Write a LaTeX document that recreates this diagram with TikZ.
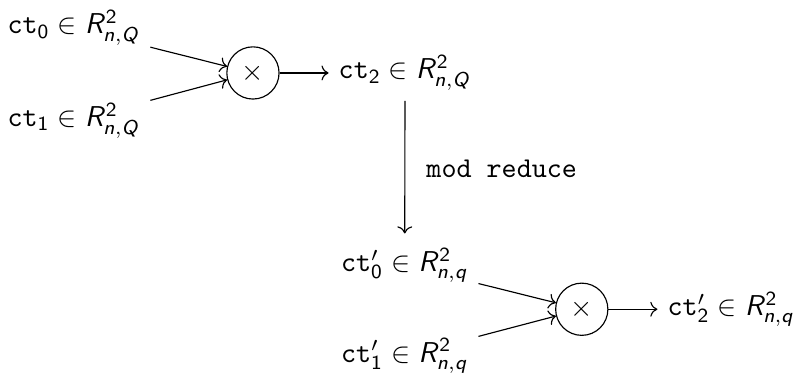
\documentclass[tikz,border=0pt]{standalone}
\usepackage{amsmath,amssymb}
\usepackage{tikz}
\usetikzlibrary{
  arrows.meta,
  positioning
}
\DeclareMathAlphabet{\mathsfit}{OT1}{cmss}{m}{sl}
\tikzset{
  ctnode/.style={inner sep=3.33pt},
  mulnode/.style={circle, draw, minimum size=0.64cm, inner sep=0pt},
  arrow/.style={->}
}
\newcommand{\ct}[1]{\mathtt{ct}_{\mathsf{#1}}}
\newcommand{\ctp}[1]{\mathtt{ct}'_{\mathsf{#1}}}
\newcommand{\ring}[1]{\mathsfit{R}^{\mathsf{2}}_{\mathsfit{n},\mathsfit{#1}}}

\begin{document}
\begin{tikzpicture}
  \useasboundingbox (0,0) rectangle (9.78,-4.59);

  % first product, modulus Q
  \node[ctnode] (ct0) at (0.906,-0.343) {$\ct{0} \in \ring{Q}$};
  \node[ctnode] (ct1) at (0.906,-1.48) {$\ct{1} \in \ring{Q}$};
  \node[mulnode] (mul1) at (3.10,-0.894) {$\times$};
  \node[ctnode, right=0.6cm of mul1] (ct2) {$\ct{2} \in \ring{Q}$};

  % second product, modulus q
  \node[ctnode] (ct0p) at (4.96,-3.25) {$\ctp{0} \in \ring{q}$};
  \node[ctnode] (ct1p) at (4.96,-4.36) {$\ctp{1} \in \ring{q}$};
  \node[mulnode] (mul2) at (7.13,-3.79) {$\times$};
  \node[ctnode, right=0.6cm of mul2] (ct2p) {$\ctp{2} \in \ring{q}$};

  \draw[arrow] (ct0) -- (mul1);
  \draw[arrow] (ct1) -- (mul1);
  \draw[arrow] (mul1) -- (ct2);
  \draw[arrow, shorten >=1.5pt] (ct2) -- node[right=4pt] (modred) {\texttt{mod reduce}} (ct0p);
  \draw[arrow] (ct0p) -- (mul2);
  \draw[arrow] (ct1p) -- (mul2);
  \draw[arrow] (mul2) -- (ct2p);
\end{tikzpicture}
\end{document}
